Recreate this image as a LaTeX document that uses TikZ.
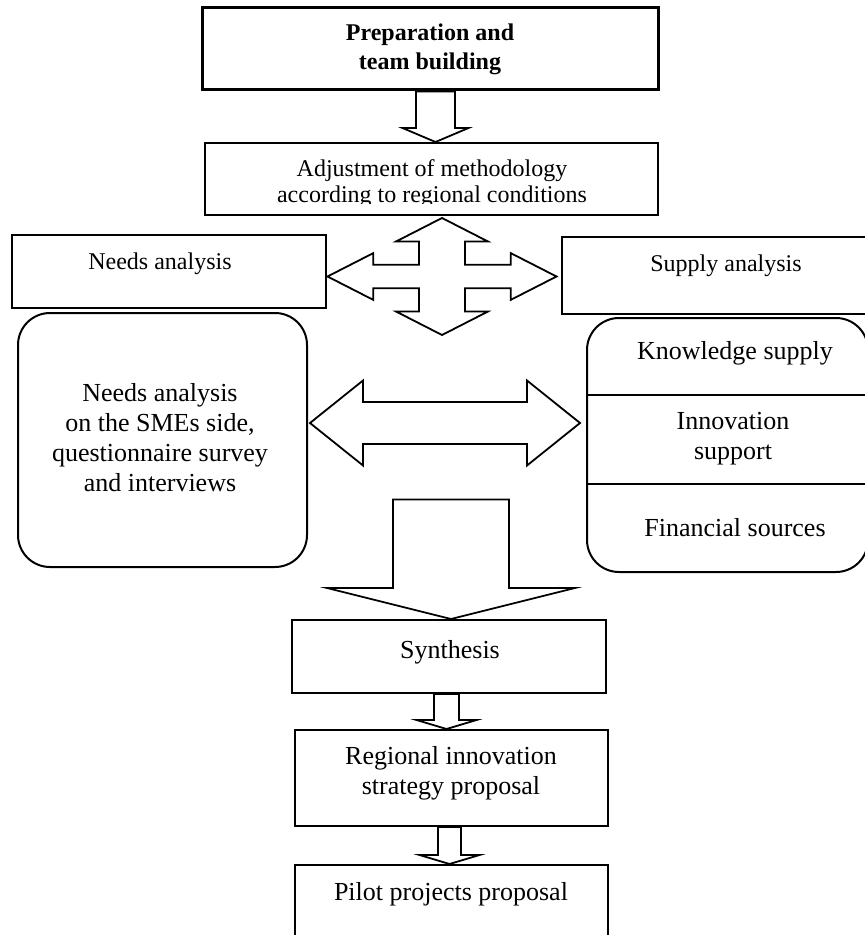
\documentclass[tikz,border=0pt]{standalone}
\usepackage{fontspec}
\setmainfont{Liberation Serif}
\usetikzlibrary{calc}
\tikzset{
	box/.style={draw, line width=1pt, inner sep=0pt, align=center}, % plain box
	rbox/.style={box, rounded corners=16pt}, % rounded box
	blk/.style={draw, line width=0.9pt, fill=white, line join=miter}, % block arrow outline
	txt/.style={align=center, inner sep=0pt, font=\fontsize{13}{15}\selectfont}, % body text
	small/.style={font=\fontsize{12}{14.5}\selectfont}, % text of the upper boxes
}

% block arrow from node #1 down to node #2 along axis #3: shaft #4, head #5, head length #6
\newcommand{\blkdown}[6]{%
	\draw[blk] ($(#1.south -| #3)+(-#4,0)$) -- ($(#1.south -| #3)+(#4,0)$)
		-- ($(#2.north -| #3)+(#4,-#6)$) -- ($(#2.north -| #3)+(#5,-#6)$)
		-- (#2.north -| #3) -- ($(#2.north -| #3)+(-#5,-#6)$)
		-- ($(#2.north -| #3)+(-#4,-#6)$) -- cycle;}

\begin{document}
\begin{tikzpicture}[x=0.5pt,y=-0.5pt]
	\useasboundingbox (0,0) rectangle (865,935);

	% boxes
	\node[box, txt, small, line width=1.5pt, minimum width=228pt, minimum height=41pt] (prep) at (430,49)
		{\textbf{Preparation and}\\\textbf{team building}};
	\node[box, minimum width=226.5pt, minimum height=36pt] (adj) at (431.5,179) {};
	\node[box, minimum width=157pt, minimum height=36.5pt] (needs) at (169,271.5) {};
	\node[box, minimum width=159pt, minimum height=38.5pt] (supply) at (721,275.5) {};
	\node[rbox, minimum width=144.5pt, minimum height=127pt] (needsbox) at (162.5,440) {};
	\node[rbox, minimum width=140.5pt, minimum height=127pt] (supplybox) at (727.5,445) {};
	\node[box, minimum width=157pt, minimum height=36.5pt] (synth) at (449,656.5) {};
	\node[box, minimum width=156.5pt, minimum height=48pt] (ris) at (451.5,778) {};
	\node[box, minimum width=156.5pt, minimum height=42.5pt] (pilot) at (451.5,907.5) {};

	% texts
	\begin{scope}
		\clip (205,143) rectangle (658,204);
		\node[txt, font=\fontsize{12}{13}\selectfont] (adjtxt) at (432,184)
			{Adjustment of methodology\\according to regional conditions};
	\end{scope}
	\node[txt, small] (needstxt) at (160,264) {Needs analysis};
	\node[txt, small] (supplytxt) at (726,266) {Supply analysis};
	\node[txt] (needsboxtxt) at (160,438)
		{Needs analysis\\on the SMEs side,\\questionnaire survey\\and interviews};
	\node[txt] (knowl) at (735,353) {Knowledge supply};
	\node[txt] (innov) at (733,438.5) {Innovation\\support};
	\node[txt] (fin) at (735,528) {Financial sources};
	\node[txt] (synthtxt) at (450,652) {Synthesis};
	\node[txt] (ristxt) at (451,773) {Regional innovation\\strategy proposal};
	\node[txt] (pilottxt) at (451,894) {Pilot projects proposal};

	% dividers of the supply box
	\draw[line width=1pt] (supplybox.west |- 0,395) -- (supplybox.east |- 0,395);
	\draw[line width=1pt] (supplybox.west |- 0,484) -- (supplybox.east |- 0,484);

	% block arrows
	\coordinate (ax1) at (435.5,0);
	\coordinate (ax2) at (446.5,0);
	\coordinate (ax3) at (449.5,0);
	\blkdown{prep}{adj}{ax1}{19.5}{33}{14}
	\blkdown{synth}{ris}{ax2}{12.5}{30}{9}
	\blkdown{ris}{pilot}{ax3}{11.5}{30}{9}

	\node[inner sep=0pt, minimum size=0pt] (join) at (451,499) {};
	\blkdown{join}{synth}{join}{58}{124}{31}

	\coordinate (cross) at (442,276.5);
	\begin{scope}[shift={(cross)}]
		\draw[blk] (0,-58.5) -- (46,-35) -- (23,-35) -- (23,-11.7) -- (68.7,-11.7) -- (68.7,-23.4)
			-- (114.5,0) -- (68.7,23.4) -- (68.7,11.7) -- (23,11.7) -- (23,35) -- (46,35)
			-- (0,58.5) -- (-46,35) -- (-23,35) -- (-23,11.7) -- (-68.7,11.7) -- (-68.7,23.4)
			-- (-114.5,0) -- (-68.7,-23.4) -- (-68.7,-11.7) -- (-23,-11.7) -- (-23,-35) -- (-46,-35) -- cycle;
	\end{scope}

	\coordinate (link) at (445,423);
	\begin{scope}[shift={(link)}]
		\draw[blk] (-135,0) -- (-82,-42.5) -- (-82,-21) -- (82,-21) -- (82,-42.5) -- (135,0)
			-- (82,42.5) -- (82,21) -- (-82,21) -- (-82,42.5) -- cycle;
	\end{scope}
\end{tikzpicture}
\end{document}
